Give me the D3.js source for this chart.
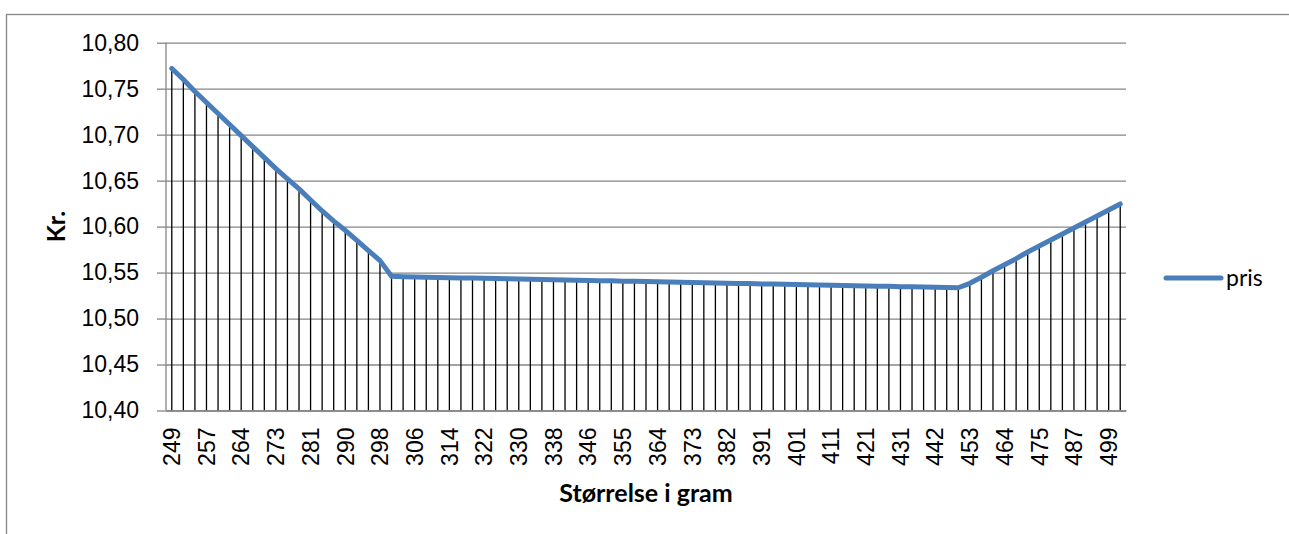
<!DOCTYPE html>
<html>
<head>
<meta charset="utf-8">
<script src="https://cdn.jsdelivr.net/npm/d3@7"></script>
<style>
    body { margin: 0; background: #fff; }
    svg { display: block; font-family: Lato, "Open Sans", sans-serif; }
</style>
</head>
<body>
<div id="chart"></div>
<script>
// labels under every third size
let tickLabels = ['249', '257', '264', '273', '281', '290', '298', '306', '314', '322',
    '330', '338', '346', '355', '364', '373', '382', '391', '401', '411',
    '421', '431', '442', '453', '464', '475', '487', '499'];

// price per size (83 sizes)
let prices = [
    10.772, 10.760, 10.747, 10.735, 10.723, 10.711, 10.699, 10.687, 10.675, 10.663,
    10.652, 10.641, 10.629, 10.617, 10.606, 10.596, 10.585, 10.574, 10.563, 10.5460,
    10.5455, 10.5452, 10.5450, 10.5447, 10.5445, 10.5442, 10.5440, 10.5437, 10.5435, 10.5432,
    10.5430, 10.5427, 10.5425, 10.5422, 10.5420, 10.5417, 10.5415, 10.5412, 10.5410, 10.5407,
    10.5405, 10.5402, 10.5400, 10.5397, 10.5395, 10.5392, 10.5390, 10.5387, 10.5385, 10.5382,
    10.5380, 10.5377, 10.5375, 10.5372, 10.5370, 10.5367, 10.5365, 10.5362, 10.5360, 10.5357,
    10.5355, 10.5352, 10.5350, 10.5347, 10.5345, 10.5342, 10.5340, 10.5337, 10.5335, 10.5383,
    10.5449, 10.5520, 10.5586, 10.5651, 10.5724, 10.5789, 10.5854, 10.5920, 10.5985, 10.6050,
    10.6115, 10.6180, 10.6246
];

let yTicks = [10.40, 10.45, 10.50, 10.55, 10.60, 10.65, 10.70, 10.75, 10.80];

let seriesName = 'pris';
let xTitle = 'Størrelse i gram';
let yTitle = 'Kr.';

const width = 1289, height = 534;
const plot = {left: 166, right: 1126, top: 42.7, bottom: 410.5};
const gridColor = '#868686';
const lineColor = '#4a7ebb';

const svg = d3.select('#chart').append('svg')
    .attr('width', width)
    .attr('height', height);

// outer chart border (only top and left show in the frame)
svg.append('rect')
    .attr('x', 6.5).attr('y', 14.5)
    .attr('width', 1300).attr('height', 600)
    .attr('fill', 'none')
    .attr('stroke', gridColor)
    .attr('stroke-width', 1.3);

const x = d3.scaleBand()
    .domain(d3.range(prices.length))
    .range([plot.left, plot.right]);

const y = d3.scaleLinear()
    .domain([10.40, 10.80])
    .range([plot.bottom, plot.top]);

const fmt = function(d) { return d3.format('.2f')(d).replace('.', ','); };

// horizontal gridlines + y axis
const yAxis = svg.append('g')
    .attr('transform', 'translate(' + plot.left + ',0)')
    .call(d3.axisLeft(y)
        .tickValues(yTicks)
        .tickFormat(fmt)
        .tickSize(9)
        .tickPadding(18));
yAxis.select('.domain').remove();
yAxis.selectAll('.tick line')
    .attr('stroke', gridColor)
    .attr('stroke-width', 1.3);
yAxis.selectAll('.tick')
    .append('line')
    .attr('x1', 0).attr('x2', plot.right - plot.left)
    .attr('stroke', gridColor)
    .attr('stroke-width', 1.3);
yAxis.selectAll('.tick text')
    .attr('fill', '#000')
    .style('font-size', '23px');

// vertical axis line
svg.append('line')
    .attr('x1', plot.left).attr('x2', plot.left)
    .attr('y1', plot.top).attr('y2', plot.bottom)
    .attr('stroke', gridColor)
    .attr('stroke-width', 1.3);

// drop lines from each point down to the axis
svg.append('g')
    .selectAll('line')
    .data(prices)
    .enter().append('line')
    .attr('x1', function(d, i) { return x(i) + x.bandwidth() / 2; })
    .attr('x2', function(d, i) { return x(i) + x.bandwidth() / 2; })
    .attr('y1', function(d) { return y(d); })
    .attr('y2', y(10.40))
    .attr('stroke', '#000')
    .attr('stroke-width', 1.3);

// x axis: label every third category, rotated
const xAxis = svg.append('g')
    .attr('transform', 'translate(0,' + plot.bottom + ')')
    .call(d3.axisBottom(x)
        .tickValues(d3.range(0, prices.length, 3).slice(0, tickLabels.length))
        .tickFormat(function(d) { return tickLabels[d / 3]; })
        .tickSize(0));
xAxis.select('.domain')
    .attr('stroke', gridColor)
    .attr('stroke-width', 1.3);
xAxis.selectAll('.tick text')
    .attr('fill', '#000')
    .style('font-size', '23px')
    .attr('text-anchor', 'end')
    .attr('transform', 'rotate(-90)')
    .attr('x', -17)
    .attr('y', 0)
    .attr('dy', '0.36em');

// the price line
const line = d3.line()
    .x(function(d, i) { return x(i) + x.bandwidth() / 2; })
    .y(function(d) { return y(d); });

svg.append('path')
    .datum(prices)
    .attr('d', line)
    .attr('fill', 'none')
    .attr('stroke', lineColor)
    .attr('stroke-width', 5)
    .attr('stroke-linejoin', 'round')
    .attr('stroke-linecap', 'round');

// axis titles
svg.append('text')
    .attr('x', (plot.left + plot.right) / 2)
    .attr('y', 502)
    .attr('text-anchor', 'middle')
    .style('font-weight', 'bold')
    .style('font-size', '25px')
    .text(xTitle);

svg.append('text')
    .attr('transform', 'translate(65,' + (plot.top + plot.bottom) / 2 + ') rotate(-90)')
    .attr('text-anchor', 'middle')
    .style('font-weight', 'bold')
    .style('font-size', '25px')
    .text(yTitle);

// legend
svg.append('line')
    .attr('x1', 1166).attr('x2', 1221)
    .attr('y1', 278).attr('y2', 278)
    .attr('stroke', lineColor)
    .attr('stroke-width', 5)
    .attr('stroke-linecap', 'round');

svg.append('text')
    .attr('x', 1226)
    .attr('y', 286)
    .style('font-size', '23px')
    .text(seriesName);
</script>
</body>
</html>
